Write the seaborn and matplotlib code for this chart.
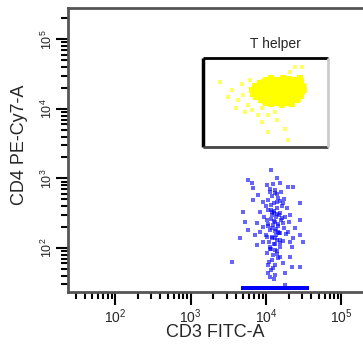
import numpy as np
import pandas as pd
import matplotlib
matplotlib.use("Agg")
import matplotlib.pyplot as plt
import seaborn as sns

# log10 values
# T helper core (CD3, CD4)
th_cd3 = [4.00, 4.07, 4.15, 4.22, 4.30, 4.38, 4.45,
          3.92, 3.97, 4.03, 4.10, 4.16, 4.23, 4.29, 4.35, 4.41, 4.47,
          3.86, 3.91, 3.96, 4.02, 4.08, 4.13, 4.19, 4.25, 4.31, 4.37, 4.43, 4.49,
          3.81, 3.87, 3.93, 3.99, 4.05, 4.11, 4.17, 4.22, 4.28, 4.34, 4.40, 4.46, 4.51,
          3.83, 3.89, 3.95, 4.01, 4.07, 4.12, 4.18, 4.24, 4.30, 4.36, 4.42, 4.48,
          3.87, 3.93, 3.99, 4.05, 4.10, 4.16, 4.22, 4.28, 4.34, 4.40, 4.46,
          3.93, 3.99, 4.05, 4.11, 4.17, 4.23, 4.29, 4.35, 4.41,
          4.00, 4.07, 4.14, 4.21, 4.28, 4.35]
th_cd4 = [4.41, 4.44, 4.42, 4.45, 4.43, 4.41, 4.44,
          4.37, 4.39, 4.36, 4.38, 4.40, 4.37, 4.39, 4.36, 4.38, 4.40,
          4.33, 4.31, 4.34, 4.32, 4.35, 4.33, 4.31, 4.34, 4.32, 4.35, 4.33, 4.31,
          4.27, 4.29, 4.27, 4.30, 4.28, 4.26, 4.29, 4.27, 4.30, 4.28, 4.26, 4.29, 4.27,
          4.22, 4.24, 4.23, 4.21, 4.24, 4.22, 4.25, 4.23, 4.21, 4.24, 4.22, 4.24,
          4.17, 4.19, 4.18, 4.16, 4.19, 4.17, 4.19, 4.16, 4.18, 4.17, 4.19,
          4.13, 4.12, 4.14, 4.12, 4.13, 4.11, 4.14, 4.12, 4.13,
          4.08, 4.07, 4.09, 4.06, 4.08, 4.07]

# sparse yellow events around the core
th_sparse_cd3 = [3.39, 3.55, 3.63, 3.70, 3.60, 3.76, 3.72, 3.82, 3.89, 3.95, 4.03, 4.15, 4.25,
                 4.03, 4.29, 4.38, 4.48, 4.32, 4.52, 4.45, 3.79, 3.68, 3.50, 3.95, 4.12]
th_sparse_cd4 = [4.39, 4.27, 4.13, 4.20, 4.01, 4.06, 3.96, 3.99, 3.91, 4.01, 3.91, 3.84, 3.71,
                 3.67, 3.55, 4.60, 4.60, 4.53, 4.35, 4.13, 4.42, 4.36, 4.17, 3.81, 3.96]

# CD4 negative population
neg_cd3 = [4.07, 4.15, 3.76, 3.82, 4.01, 4.19, 4.29, 4.36, 3.83, 4.05, 4.12, 3.89, 3.83, 3.96,
           4.03, 4.15, 4.23, 4.45, 3.70, 3.92, 4.08, 4.19, 4.32, 4.45, 4.01, 4.12, 3.72, 3.88,
           4.23, 3.96, 4.08, 4.38, 3.76, 3.92, 4.16, 4.29, 4.45, 3.85, 4.01, 4.12, 3.66, 4.36,
           3.96, 4.19, 4.32, 4.49, 4.05, 4.34, 3.88, 4.12, 4.01, 4.19, 4.32, 4.08, 3.55, 4.03,
           4.23, 4.09, 4.34, 4.45, 4.03, 4.12, 4.25, 4.05, 4.25,
           4.05, 4.12, 4.20, 4.08, 4.16, 4.24, 4.00, 4.07, 4.14, 4.21, 4.28, 4.03, 4.10, 4.17,
           4.25, 3.98, 4.06, 4.13, 4.20, 4.30, 4.02, 4.09, 4.16, 4.24, 4.05, 4.12, 4.19, 4.27,
           4.00, 4.08, 4.15, 4.22, 4.04, 4.11, 4.18, 4.07, 4.14, 4.09, 4.16, 4.04, 4.12, 4.06,
           4.10,
           4.09, 4.14, 4.18, 4.11, 4.06, 4.15, 4.21, 4.10, 4.03, 4.13, 4.17, 4.08, 4.19, 4.12,
           4.05, 4.14, 4.10, 4.16, 4.08, 4.13]
neg_cd4 = [3.12, 3.01, 2.98, 2.94, 2.91, 2.94, 2.88, 2.88, 2.86, 2.81, 2.79, 2.76, 2.69, 2.66,
           2.69, 2.66, 2.65, 2.65, 2.52, 2.52, 2.52, 2.50, 2.48, 2.40, 2.40, 2.37, 2.37, 2.36,
           2.36, 2.30, 2.29, 2.29, 2.26, 2.23, 2.23, 2.23, 2.19, 2.19, 2.16, 2.14, 2.14, 2.14,
           2.09, 2.07, 2.09, 2.09, 2.01, 2.01, 2.04, 1.97, 1.93, 1.87, 1.87, 1.83, 1.80, 1.76,
           1.78, 1.71, 1.73, 1.73, 1.64, 1.61, 1.64, 1.58, 1.47,
           2.85, 2.83, 2.80, 2.74, 2.72, 2.70, 2.60, 2.62, 2.58, 2.60, 2.57, 2.54, 2.50, 2.47,
           2.45, 2.45, 2.42, 2.44, 2.40, 2.38, 2.35, 2.33, 2.31, 2.29, 2.26, 2.24, 2.22, 2.20,
           2.18, 2.16, 2.12, 2.10, 2.08, 2.05, 2.02, 1.98, 1.95, 1.90, 1.85, 1.80, 1.76, 1.68,
           1.55,
           2.92, 2.77, 2.68, 2.64, 2.55, 2.49, 2.43, 2.39, 2.32, 2.27, 2.21, 2.15, 2.11, 2.06,
           1.99, 1.92, 2.53, 2.34, 2.48, 2.19]

# events piled on the lower axis limit
floor_cd3 = [3.70, 3.73, 3.76, 3.79, 3.82, 3.85, 3.88, 3.91, 3.94, 3.97, 4.00, 4.03, 4.06, 4.09,
             4.12, 4.15, 4.18, 4.21, 4.24, 4.27, 4.30, 4.33, 4.36, 4.39, 4.42, 4.45, 4.48, 4.51, 4.54]
floor_cd4 = [1.42, 1.42, 1.42, 1.42, 1.42, 1.42, 1.42, 1.42, 1.42, 1.42, 1.42, 1.42, 1.42, 1.42,
             1.42, 1.42, 1.42, 1.42, 1.42, 1.42, 1.42, 1.42, 1.42, 1.42, 1.42, 1.42, 1.42, 1.42, 1.42]

gate_cd3 = [3.166, 4.821]
gate_cd4 = [3.453, 4.734]

sns.set_style("ticks")
plt.rcParams['font.family'] = ['Liberation Sans', 'DejaVu Sans']
plt.rcParams['mathtext.fontset'] = 'custom'
plt.rcParams['mathtext.rm'] = 'Liberation Sans'
plt.rcParams['mathtext.it'] = 'Liberation Sans'

fig = plt.figure(figsize=(3.63, 3.48), dpi=100)
ax = fig.add_axes([68 / 363, 1 - 292 / 348, 1 - 68 / 363, (292 - 8) / 348])

def lin(v):
    return 10 ** np.array(v)

sns.scatterplot(x=lin(neg_cd3), y=lin(neg_cd4), ax=ax, color='#0000ff', alpha=0.6,
                marker='s', s=11, linewidth=0)
sns.scatterplot(x=lin(floor_cd3), y=lin(floor_cd4), ax=ax, color='#0000ff',
                marker='s', s=9, linewidth=0)
sns.scatterplot(x=lin(th_sparse_cd3), y=lin(th_sparse_cd4), ax=ax, color='#ffff66',
                marker='s', s=6, linewidth=0)
sns.scatterplot(x=lin(th_cd3), y=lin(th_cd4), ax=ax, color='#ffff00',
                marker='s', s=14, linewidth=0)

# gate outline
g0, g1 = lin(gate_cd3)
h0, h1 = lin(gate_cd4)
ax.plot([g0, g0], [h0, h1], color='black', lw=2.5, solid_capstyle='butt')
ax.plot([g0, g1], [h1, h1], color='black', lw=2, solid_capstyle='butt')
ax.plot([g0, g1], [h0, h0], color='#444444', lw=2, solid_capstyle='butt')
ax.plot([g1, g1], [h0, h1], color='#cccccc', lw=2, solid_capstyle='butt')
ax.text(10 ** 4.12, 10 ** 4.935, "T helper", ha='center', va='center', fontsize=10)

ax.set_xscale('log')
ax.set_yscale('log')
ax.set_xlim(10 ** 1.377, 10 ** 5.285)
ax.set_ylim(10 ** 1.367, 10 ** 5.45)
ax.set_xticks([1e2, 1e3, 1e4, 1e5])
ax.set_yticks([1e2, 1e3, 1e4, 1e5])
ax.set_xticklabels([r'$10^{2}$', r'$10^{3}$', r'$10^{4}$', r'$10^{5}$'], fontsize=10)
ax.set_yticklabels([r'$10^{2}$', r'$10^{3}$', r'$10^{4}$', r'$10^{5}$'], fontsize=9,
                   rotation=90, va='center')
ax.tick_params(which='major', length=9, width=1.5, color='black', pad=2)
ax.tick_params(axis='y', which='major', pad=0)
ax.tick_params(which='minor', length=5, width=1.5, color='black')
ax.spines['right'].set_visible(False)
for side in ['left', 'bottom', 'top']:
    ax.spines[side].set_linewidth(2)
    ax.spines[side].set_color('#555555')

ax.set_xlabel("CD3 FITC-A", fontsize=13, labelpad=-1)
ax.set_ylabel("CD4 PE-Cy7-A", fontsize=13)
ax.yaxis.set_label_coords(-0.135, 0.52)

fig.savefig("out.png", dpi=100)
